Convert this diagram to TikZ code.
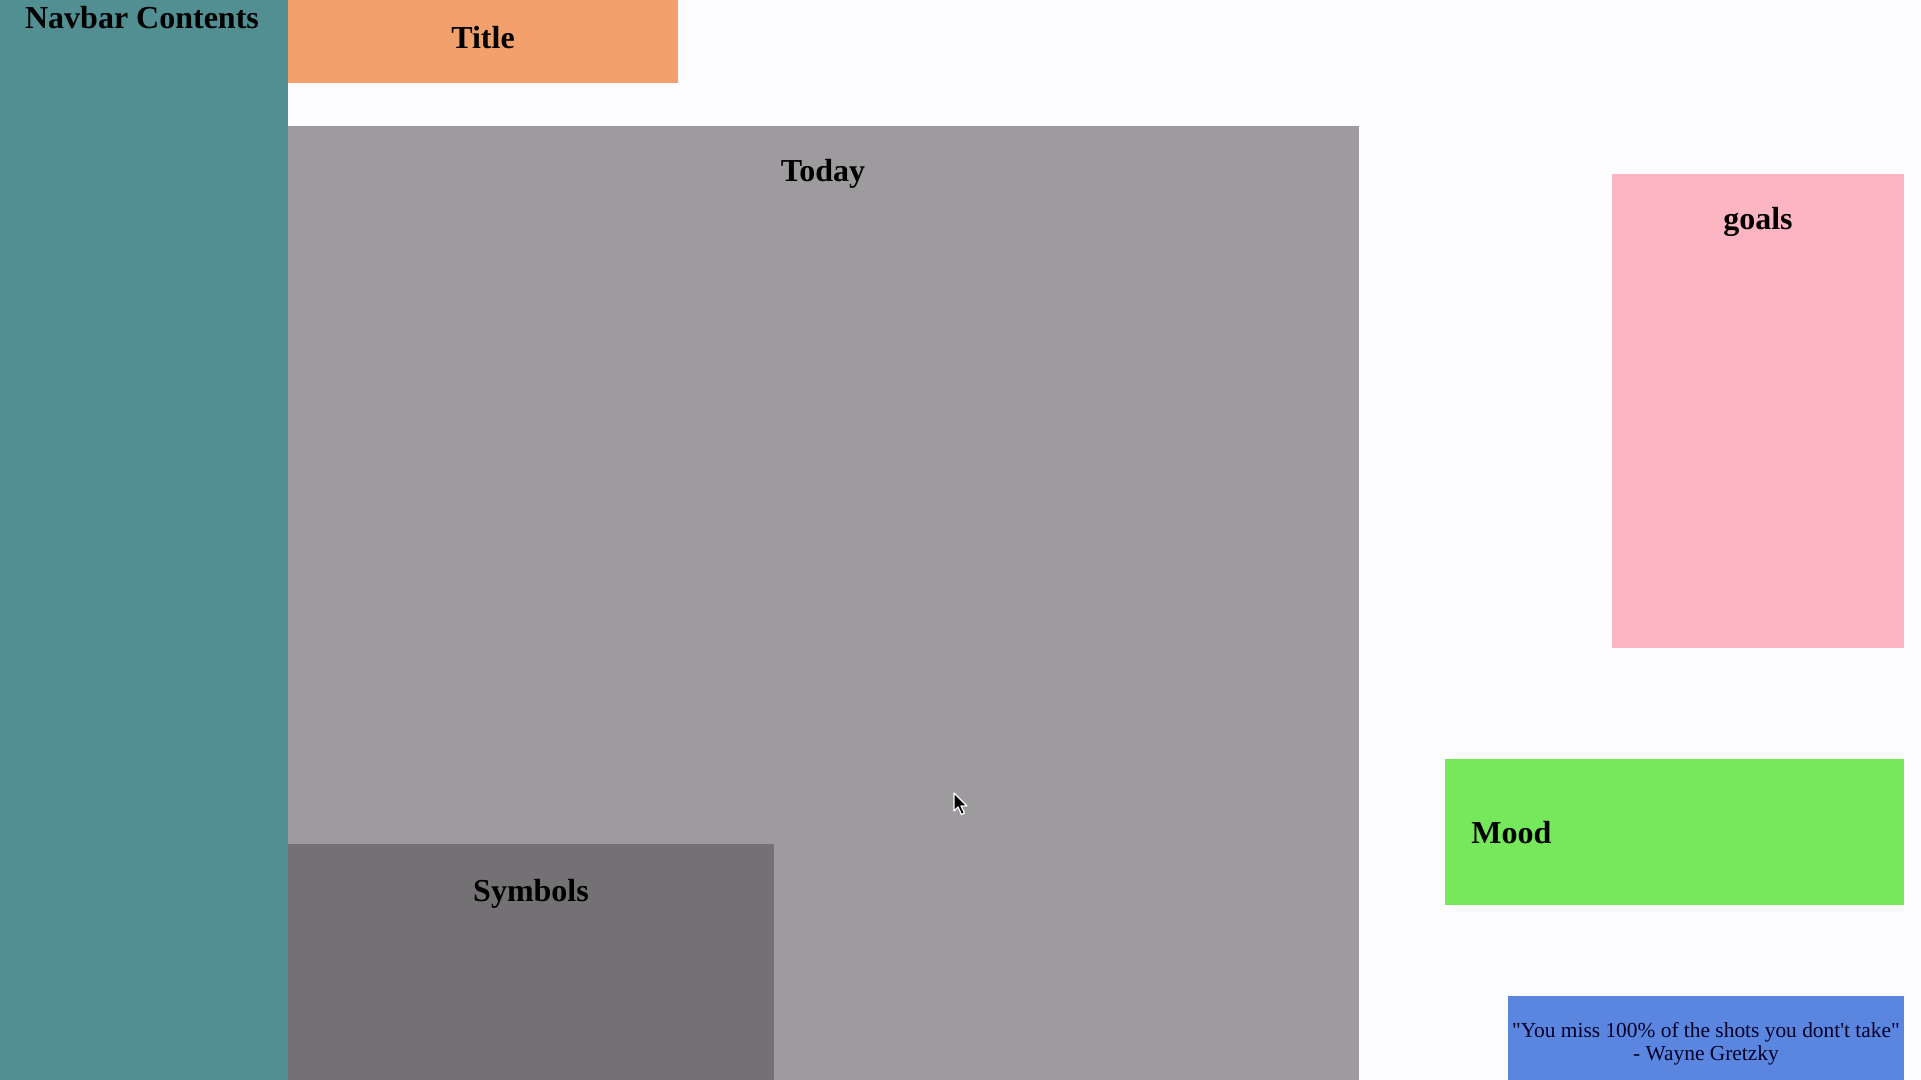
\documentclass[tikz,border=0pt]{standalone}
\usepackage{fontspec}
\setmainfont{Liberation Serif}
\newfontfamily\qfont{Liberation Serif}
\definecolor{bgc}{HTML}{FDFDFF}
\definecolor{navc}{HTML}{528F92}
\definecolor{titlec}{HTML}{F2A06C}
\definecolor{todayc}{HTML}{9D9B9D}
\definecolor{symc}{HTML}{737173}
\definecolor{goalc}{HTML}{FDB6C1}
\definecolor{moodc}{HTML}{76E85C}
\definecolor{quotec}{HTML}{5A86E0}
\tikzset{
  head/.style={font=\fontsize{16}{19}\selectfont\bfseries, inner sep=0pt, anchor=base, text=black},
  quote/.style={font=\qfont\fontsize{10.7}{12}\selectfont, inner sep=0pt, anchor=base, text=black!85!blue},
}
\begin{document}
\begin{tikzpicture}[x=0.5pt,y=-0.5pt]
\useasboundingbox (0,0) rectangle (1921,1080);
\fill[bgc] (0,0) rectangle (1921,1080);
% panels
\fill[navc] (0,0) rectangle (288,1080);
\fill[titlec] (288,0) rectangle (678,83);
\fill[todayc] (288,126) rectangle (1359,1080);
\fill[symc] (288,844) rectangle (774,1080);
\fill[goalc] (1612,174) rectangle (1904,648);
\fill[moodc] (1445,759) rectangle (1904,905);
\fill[quotec] (1508,996) rectangle (1904,1080);
% labels
\node[head] (navlbl) at (142,29) {Navbar Contents};
\node[head] (titlelbl) at (483,49) {Title};
\node[head] (todaylbl) at (823,182) {Today};
\node[head] (symlbl) at (531,901) {Symbols};
\node[head] (goallbl) at (1758,230) {goals};
\node[head, anchor=base west] (moodlbl) at (1471,843) {Mood};
\node[quote] (q1) at (1706,1037) {"You miss 100\% of the shots you dont't take"};
\node[quote] (q2) at (1706,1060) {- Wayne Gretzky};
% mouse cursor
\coordinate (cur) at (954,793);
\filldraw[fill=black, draw=white, line width=0.6pt, line join=round]
  (cur) -- ++(0,18) -- ++(4,-4) -- ++(3.5,7.5) -- ++(3,-1.5) -- ++(-3.5,-7) -- ++(6,0) -- cycle;
\end{tikzpicture}
\end{document}
